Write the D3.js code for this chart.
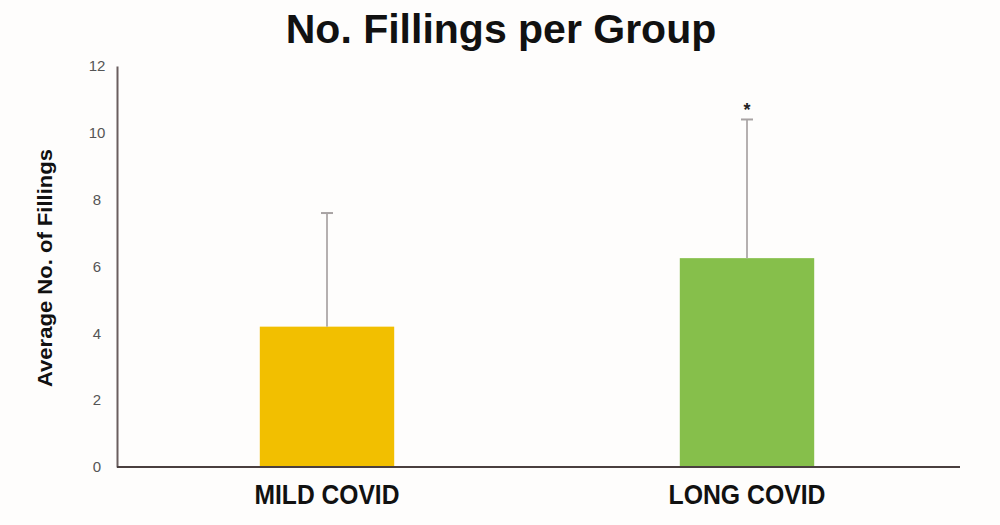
<!DOCTYPE html>
<html><head><meta charset="utf-8">
<script src="https://cdn.jsdelivr.net/npm/d3@7"></script>
<style>body{margin:0;background:#fdfcfb;}svg{display:block;}</style>
</head><body>
<svg id="c" width="1000" height="525"></svg>
<script>
const categories = ["MILD COVID", "LONG COVID"];
const means = [4.2, 6.25];
const errTops = [7.6, 10.4];
const signif = ["", "*"];
const colors = ["#f2bf00", "#86bf4b"];
const yTicks = [0, 2, 4, 6, 8, 10, 12];

const svg = d3.select("#c");
const m = {left:117, right:960, top:66, bottom:467};
const y = d3.scaleLinear().domain([0,12]).range([m.bottom, m.top]);
const x = d3.scaleBand().domain(categories).range([117, 957]).paddingInner(0.68).paddingOuter(0.34);

svg.append("rect").attr("width",1000).attr("height",525).attr("fill","#fefdfc");

svg.append("text").attr("x",501).attr("y",43).attr("text-anchor","middle")
  .attr("font-family","Liberation Sans, Arial, sans-serif").attr("font-weight","bold")
  .attr("font-size",41).attr("fill","#111").text("No. Fillings per Group");

// bars
svg.selectAll("rect.bar").data(categories).enter().append("rect")
  .attr("x", d=>x(d)).attr("width", x.bandwidth())
  .attr("y", (d,i)=>y(means[i])).attr("height",(d,i)=>y(0)-y(means[i]))
  .attr("fill",(d,i)=>colors[i]);

// error bars
const cx = d => x(d)+x.bandwidth()/2;
svg.selectAll("line.err").data(categories).enter().append("line")
  .attr("x1",cx).attr("x2",cx).attr("y1",(d,i)=>y(means[i])).attr("y2",(d,i)=>y(errTops[i]))
  .attr("stroke","#b5b0b0").attr("stroke-width",2);
svg.selectAll("line.cap").data(categories).enter().append("line")
  .attr("x1",d=>cx(d)-6).attr("x2",d=>cx(d)+6).attr("y1",(d,i)=>y(errTops[i])).attr("y2",(d,i)=>y(errTops[i]))
  .attr("stroke","#a8a3a3").attr("stroke-width",2);
svg.selectAll("text.sig").data(categories).enter().append("text")
  .attr("x",cx).attr("y",(d,i)=>y(errTops[i])-3).attr("text-anchor","middle")
  .attr("font-family","Liberation Sans, Arial, sans-serif").attr("font-weight","bold")
  .attr("font-size",18).attr("fill","#222").text((d,i)=>signif[i]);

// y axis
const yAxis = d3.axisLeft(y).tickValues(yTicks).tickSize(0).tickPadding(14).tickFormat(d3.format("d"));
const ga = svg.append("g").attr("transform",`translate(${m.left},0)`).call(yAxis);
ga.select(".domain").attr("stroke","#6a5e5e").attr("stroke-width",2);
ga.selectAll("text").attr("font-family","Liberation Sans, Arial, sans-serif").attr("font-size",15).attr("fill","#555").attr("text-anchor","middle").attr("dx","-6");

// x axis
const xAxis = d3.axisBottom(x).tickSize(0).tickPadding(17);
const gx = svg.append("g").attr("transform",`translate(0,${m.bottom})`).call(xAxis);
gx.select(".domain").attr("d",`M${m.left},0H${m.right}`).attr("stroke","#4a3f3f").attr("stroke-width",2);
gx.selectAll("text").attr("font-family","Liberation Sans, Arial, sans-serif")
  .attr("font-weight","bold").attr("font-size",28).attr("fill","#111").attr("dy","0.71em")
  .attr("lengthAdjust","spacingAndGlyphs")
  .attr("textLength", d => d === "MILD COVID" ? 145 : 157);

svg.append("text").attr("transform","translate(52,268) rotate(-90)").attr("text-anchor","middle")
  .attr("font-family","Liberation Sans, Arial, sans-serif").attr("font-weight","bold")
  .attr("font-size",20).attr("fill","#111")
  .attr("lengthAdjust","spacingAndGlyphs").attr("textLength",238)
  .text("Average No. of Fillings");
</script>
</body></html>
